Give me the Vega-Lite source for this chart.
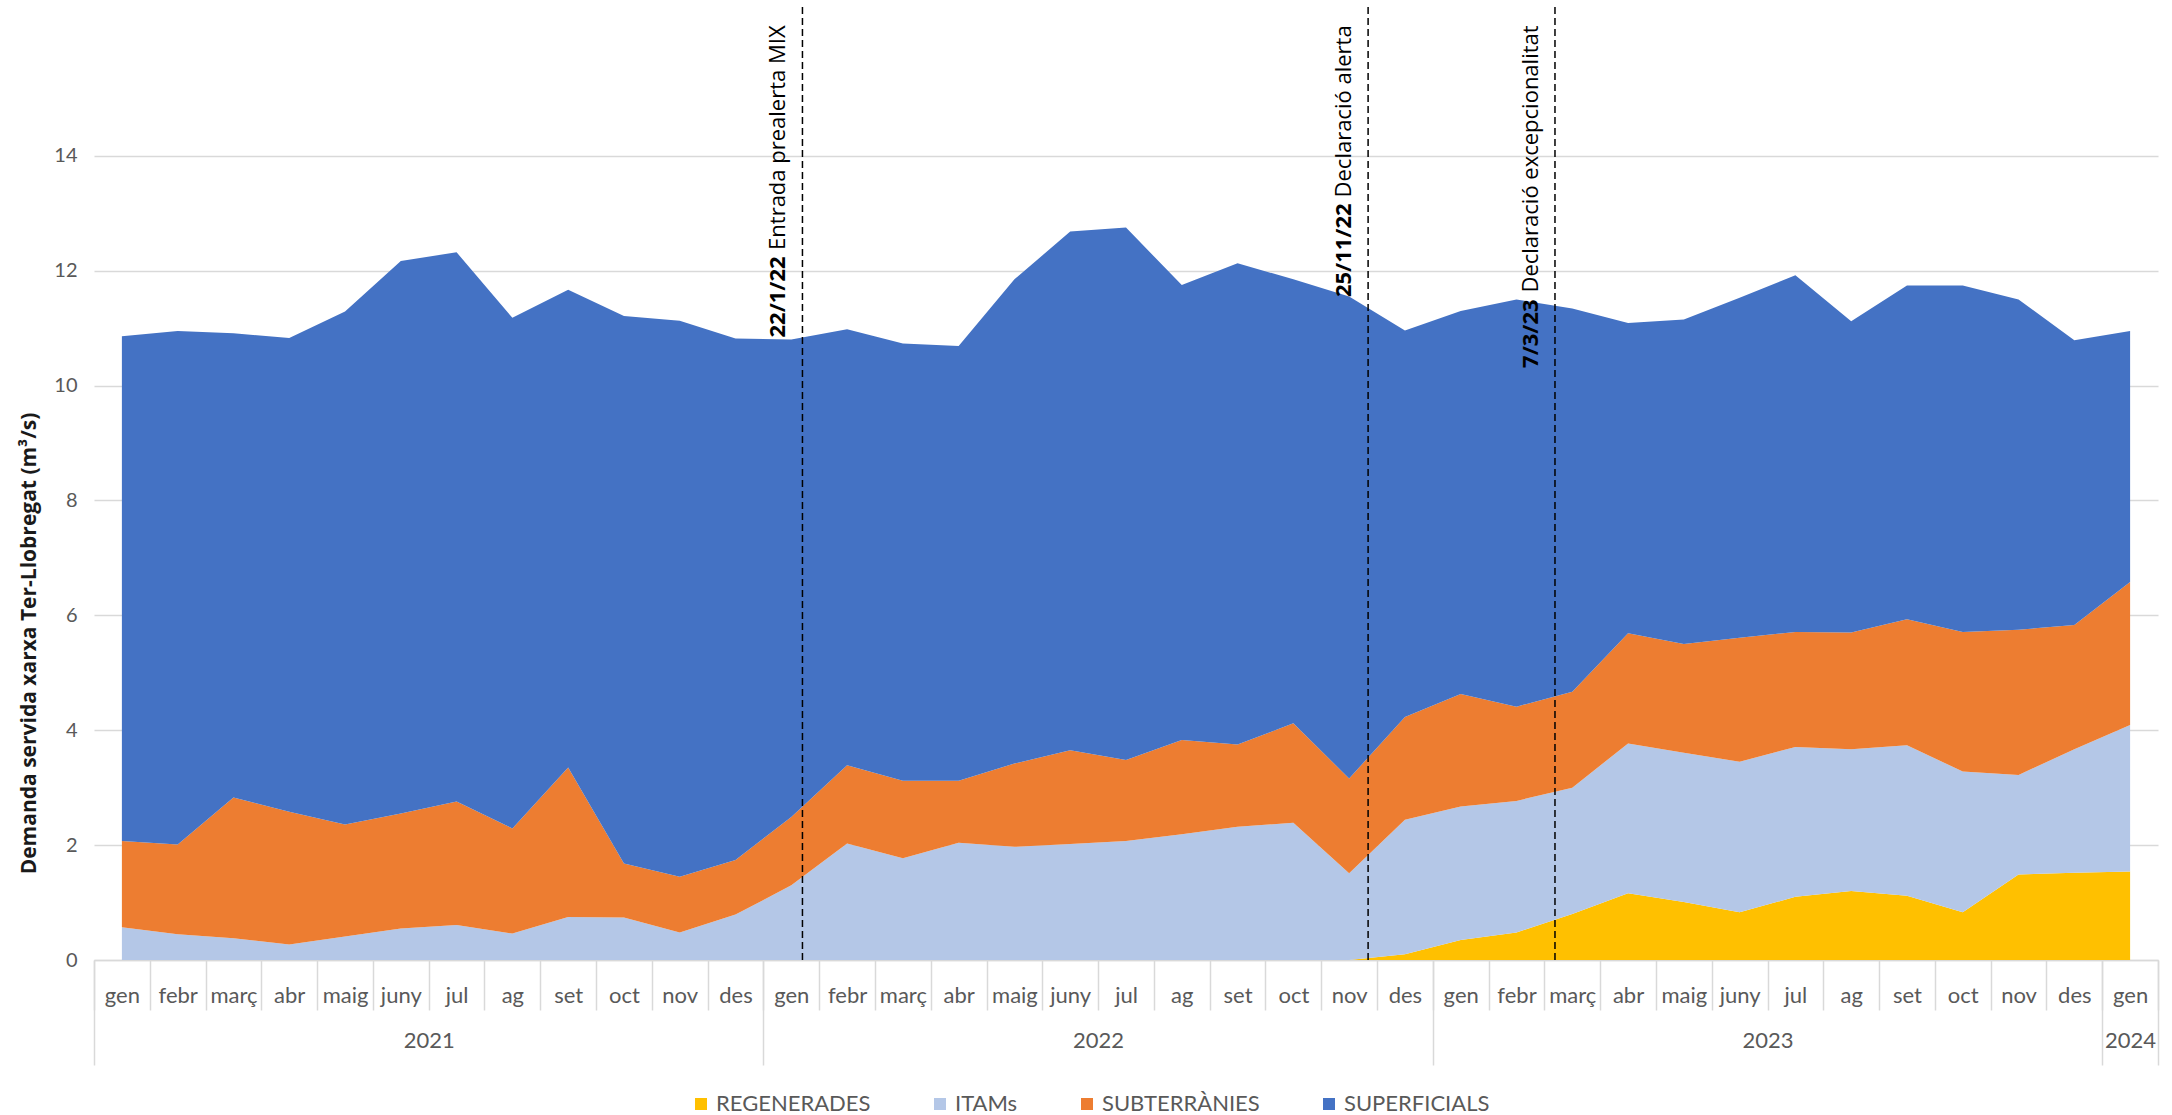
{
  "$schema": "https://vega.github.io/schema/vega-lite/v6.json",
  "width": 2064,
  "height": 953,
  "autosize": {"type": "none"},
  "padding": {"left": 94, "top": 7, "right": 14, "bottom": 155},
  "background": "white",
  "config": {"view": {"stroke": null}},
  "datasets": {
    "mesos": [
      {"i": 0, "any": 2021, "mes": "gen", "REGENERADES": 0, "ITAMs": 0.57, "SUBTERRÀNIES": 1.50, "SUPERFICIALS": 8.79},
      {"i": 1, "any": 2021, "mes": "febr", "REGENERADES": 0, "ITAMs": 0.45, "SUBTERRÀNIES": 1.56, "SUPERFICIALS": 8.94},
      {"i": 2, "any": 2021, "mes": "març", "REGENERADES": 0, "ITAMs": 0.38, "SUBTERRÀNIES": 2.45, "SUPERFICIALS": 8.08},
      {"i": 3, "any": 2021, "mes": "abr", "REGENERADES": 0, "ITAMs": 0.27, "SUBTERRÀNIES": 2.31, "SUPERFICIALS": 8.25},
      {"i": 4, "any": 2021, "mes": "maig", "REGENERADES": 0, "ITAMs": 0.41, "SUBTERRÀNIES": 1.95, "SUPERFICIALS": 8.93},
      {"i": 5, "any": 2021, "mes": "juny", "REGENERADES": 0, "ITAMs": 0.55, "SUBTERRÀNIES": 2.00, "SUPERFICIALS": 9.62},
      {"i": 6, "any": 2021, "mes": "jul", "REGENERADES": 0, "ITAMs": 0.61, "SUBTERRÀNIES": 2.15, "SUPERFICIALS": 9.56},
      {"i": 7, "any": 2021, "mes": "ag", "REGENERADES": 0, "ITAMs": 0.46, "SUBTERRÀNIES": 1.83, "SUPERFICIALS": 8.89},
      {"i": 8, "any": 2021, "mes": "set", "REGENERADES": 0, "ITAMs": 0.75, "SUBTERRÀNIES": 2.60, "SUPERFICIALS": 8.32},
      {"i": 9, "any": 2021, "mes": "oct", "REGENERADES": 0, "ITAMs": 0.74, "SUBTERRÀNIES": 0.94, "SUPERFICIALS": 9.53},
      {"i": 10, "any": 2021, "mes": "nov", "REGENERADES": 0, "ITAMs": 0.48, "SUBTERRÀNIES": 0.97, "SUPERFICIALS": 9.68},
      {"i": 11, "any": 2021, "mes": "des", "REGENERADES": 0, "ITAMs": 0.79, "SUBTERRÀNIES": 0.95, "SUPERFICIALS": 9.08},
      {"i": 12, "any": 2022, "mes": "gen", "REGENERADES": 0, "ITAMs": 1.30, "SUBTERRÀNIES": 1.19, "SUPERFICIALS": 8.31},
      {"i": 13, "any": 2022, "mes": "febr", "REGENERADES": 0, "ITAMs": 2.03, "SUBTERRÀNIES": 1.36, "SUPERFICIALS": 7.59},
      {"i": 14, "any": 2022, "mes": "març", "REGENERADES": 0, "ITAMs": 1.77, "SUBTERRÀNIES": 1.35, "SUPERFICIALS": 7.61},
      {"i": 15, "any": 2022, "mes": "abr", "REGENERADES": 0, "ITAMs": 2.04, "SUBTERRÀNIES": 1.08, "SUPERFICIALS": 7.57},
      {"i": 16, "any": 2022, "mes": "maig", "REGENERADES": 0, "ITAMs": 1.97, "SUBTERRÀNIES": 1.45, "SUPERFICIALS": 8.43},
      {"i": 17, "any": 2022, "mes": "juny", "REGENERADES": 0, "ITAMs": 2.02, "SUBTERRÀNIES": 1.63, "SUPERFICIALS": 9.03},
      {"i": 18, "any": 2022, "mes": "jul", "REGENERADES": 0, "ITAMs": 2.07, "SUBTERRÀNIES": 1.41, "SUPERFICIALS": 9.27},
      {"i": 19, "any": 2022, "mes": "ag", "REGENERADES": 0, "ITAMs": 2.19, "SUBTERRÀNIES": 1.64, "SUPERFICIALS": 7.92},
      {"i": 20, "any": 2022, "mes": "set", "REGENERADES": 0, "ITAMs": 2.32, "SUBTERRÀNIES": 1.43, "SUPERFICIALS": 8.38},
      {"i": 21, "any": 2022, "mes": "oct", "REGENERADES": 0, "ITAMs": 2.39, "SUBTERRÀNIES": 1.73, "SUPERFICIALS": 7.73},
      {"i": 22, "any": 2022, "mes": "nov", "REGENERADES": 0, "ITAMs": 1.51, "SUBTERRÀNIES": 1.65, "SUPERFICIALS": 8.39},
      {"i": 23, "any": 2022, "mes": "des", "REGENERADES": 0.10, "ITAMs": 2.34, "SUBTERRÀNIES": 1.79, "SUPERFICIALS": 6.73},
      {"i": 24, "any": 2023, "mes": "gen", "REGENERADES": 0.35, "ITAMs": 2.32, "SUBTERRÀNIES": 1.96, "SUPERFICIALS": 6.67},
      {"i": 25, "any": 2023, "mes": "febr", "REGENERADES": 0.48, "ITAMs": 2.29, "SUBTERRÀNIES": 1.64, "SUPERFICIALS": 7.09},
      {"i": 26, "any": 2023, "mes": "març", "REGENERADES": 0.80, "ITAMs": 2.20, "SUBTERRÀNIES": 1.67, "SUPERFICIALS": 6.67},
      {"i": 27, "any": 2023, "mes": "abr", "REGENERADES": 1.16, "ITAMs": 2.61, "SUBTERRÀNIES": 1.92, "SUPERFICIALS": 5.40},
      {"i": 28, "any": 2023, "mes": "maig", "REGENERADES": 1.01, "ITAMs": 2.60, "SUBTERRÀNIES": 1.89, "SUPERFICIALS": 5.65},
      {"i": 29, "any": 2023, "mes": "juny", "REGENERADES": 0.83, "ITAMs": 2.62, "SUBTERRÀNIES": 2.16, "SUPERFICIALS": 5.92},
      {"i": 30, "any": 2023, "mes": "jul", "REGENERADES": 1.10, "ITAMs": 2.61, "SUBTERRÀNIES": 2.00, "SUPERFICIALS": 6.21},
      {"i": 31, "any": 2023, "mes": "ag", "REGENERADES": 1.20, "ITAMs": 2.47, "SUBTERRÀNIES": 2.03, "SUPERFICIALS": 5.42},
      {"i": 32, "any": 2023, "mes": "set", "REGENERADES": 1.12, "ITAMs": 2.62, "SUBTERRÀNIES": 2.19, "SUPERFICIALS": 5.81},
      {"i": 33, "any": 2023, "mes": "oct", "REGENERADES": 0.83, "ITAMs": 2.45, "SUBTERRÀNIES": 2.43, "SUPERFICIALS": 6.03},
      {"i": 34, "any": 2023, "mes": "nov", "REGENERADES": 1.49, "ITAMs": 1.73, "SUBTERRÀNIES": 2.53, "SUPERFICIALS": 5.75},
      {"i": 35, "any": 2023, "mes": "des", "REGENERADES": 1.52, "ITAMs": 2.15, "SUBTERRÀNIES": 2.16, "SUPERFICIALS": 4.96},
      {"i": 36, "any": 2024, "mes": "gen", "REGENERADES": 1.54, "ITAMs": 2.55, "SUBTERRÀNIES": 2.49, "SUPERFICIALS": 4.37}
    ],
    "fites": [
      {"pos": 12.2, "data": "22/1/22", "text": "Entrada prealerta MIX"},
      {"pos": 22.34, "data": "25/11/22", "text": "Declaració alerta"},
      {"pos": 25.69, "data": "7/3/23", "text": "Declaració excepcionalitat"}
    ]
  },
  "layer": [
    {
      "data": {"name": "mesos"},
      "transform": [
        {"fold": ["REGENERADES", "ITAMs", "SUBTERRÀNIES", "SUPERFICIALS"], "as": ["serie", "v"]},
        {"calculate": "indexof(['REGENERADES','ITAMs','SUBTERRÀNIES','SUPERFICIALS'], datum.serie)", "as": "ordre"}
      ],
      "mark": {"type": "area", "interpolate": "linear"},
      "encoding": {
        "x": {
          "field": "i", "type": "quantitative",
          "scale": {"domain": [-0.5, 36.5], "nice": false, "zero": false},
          "axis": {
            "orient": "bottom", "title": null,
            "values": [0,1,2,3,4,5,6,7,8,9,10,11,12,13,14,15,16,17,18,19,20,21,22,23,24,25,26,27,28,29,30,31,32,33,34,35,36],
            "labelExpr": "['gen','febr','març','abr','maig','juny','jul','ag','set','oct','nov','des'][datum.value % 12]",
            "ticks": false, "tickSize": 0, "grid": false,
            "domain": true, "domainColor": "#d9d9d9", "domainWidth": 1.5,
            "labelPadding": 25, "labelFont": "Lato", "labelFontSize": 22, "labelColor": "#595959",
            "labelOverlap": false, "labelFlush": false
          }
        },
        "y": {
          "field": "v", "type": "quantitative", "stack": "zero",
          "scale": {"domain": [0, 16.59], "nice": false},
          "axis": {
            "values": [0, 2, 4, 6, 8, 10, 12, 14],
            "format": "d",
            "title": "Demanda servida xarxa Ter-Llobregat (m³/s)",
            "titleFont": "Open Sans", "titleFontSize": 21, "titleFontWeight": "bold", "titleColor": "#1a1a1a",
            "titleX": -65, "titleY": 636, "titleAngle": 270, "titleAlign": "center", "titleBaseline": "middle",
            "grid": true, "gridColor": "#d9d9d9", "gridWidth": 1.5,
            "domain": false, "ticks": false, "labelPadding": 17,
            "labelFont": "Lato", "labelFontSize": 20, "labelColor": "#595959"
          }
        },
        "color": {
          "field": "serie", "type": "nominal",
          "scale": {"domain": ["REGENERADES", "ITAMs", "SUBTERRÀNIES", "SUPERFICIALS"], "range": ["#FFC000", "#B4C7E7", "#ED7D31", "#4472C4"]},
          "legend": {
            "title": null, "orient": "none", "legendX": 596, "legendY": 1086, "direction": "horizontal",
            "symbolType": "square", "symbolSize": 144, "symbolStrokeWidth": 0, "symbolOpacity": 1,
            "labelFont": "Lato", "labelFontSize": 22, "labelColor": "#595959", "labelOffset": 4,
            "columnPadding": 58, "padding": 0
          }
        },
        "order": {"field": "ordre", "type": "quantitative"}
      }
    },
    {
      "data": {"name": "fites"},
      "mark": {"type": "rule", "color": "black", "strokeDash": [7, 4], "strokeWidth": 1.5},
      "encoding": {
        "x": {
          "field": "pos", "type": "quantitative",
          "scale": {"domain": [-0.5, 36.5], "nice": false, "zero": false},
          "axis": {
            "orient": "bottom", "title": null,
            "values": [-0.5,0.5,1.5,2.5,3.5,4.5,5.5,6.5,7.5,8.5,9.5,10.5,11.5,12.5,13.5,14.5,15.5,16.5,17.5,18.5,19.5,20.5,21.5,22.5,23.5,24.5,25.5,26.5,27.5,28.5,29.5,30.5,31.5,32.5,33.5,34.5,35.5,36.5],
            "labels": false, "domain": false, "grid": false,
            "ticks": true, "tickSize": 50, "tickColor": "#d9d9d9", "tickWidth": 1.5
          }
        }
      }
    },
    {
      "data": {"name": "fites"},
      "mark": {"type": "text", "angle": 270, "align": "right", "baseline": "alphabetic", "dy": -17, "font": "Open Sans", "fontSize": 22, "color": "black"},
      "encoding": {
        "x": {
          "field": "pos", "type": "quantitative",
          "scale": {"domain": [-0.5, 36.5], "nice": false, "zero": false},
          "axis": {
            "orient": "bottom", "title": null,
            "values": [-0.5, 11.5, 23.5, 35.5, 36.5],
            "labels": false, "domain": false, "grid": false,
            "ticks": true, "tickSize": 105, "tickColor": "#d9d9d9", "tickWidth": 1.5
          }
        },
        "y": {"datum": 16.27, "type": "quantitative", "scale": {"domain": [0, 16.59], "nice": false}},
        "text": {"field": "text"}
      }
    },
    {
      "data": {"name": "fites"},
      "transform": [{"filter": "datum.data == '22/1/22'"}],
      "mark": {"type": "text", "angle": 270, "align": "right", "baseline": "alphabetic", "dy": -17, "dx": -231, "font": "Open Sans", "fontSize": 22, "fontWeight": "bold", "color": "black"},
      "encoding": {
        "x": {
          "field": "pos", "type": "quantitative",
          "scale": {"domain": [-0.5, 36.5], "nice": false, "zero": false},
          "axis": {
            "orient": "bottom", "title": null,
            "values": [5.5, 17.5, 29.5, 36],
            "labelExpr": "datum.value < 12 ? '2021' : datum.value < 24 ? '2022' : datum.value < 36 ? '2023' : '2024'",
            "ticks": false, "tickSize": 0, "domain": false, "grid": false,
            "labelPadding": 70, "labelFont": "Lato", "labelFontSize": 22, "labelColor": "#595959",
            "labelOverlap": false, "labelFlush": false
          }
        },
        "y": {"datum": 16.27, "type": "quantitative", "scale": {"domain": [0, 16.59], "nice": false}},
        "text": {"field": "data"}
      }
    },
    {
      "data": {"name": "fites"},
      "transform": [{"filter": "datum.data == '25/11/22'"}],
      "mark": {"type": "text", "angle": 270, "align": "right", "baseline": "alphabetic", "dy": -17, "dx": -178, "font": "Open Sans", "fontSize": 22, "fontWeight": "bold", "color": "black"},
      "encoding": {
        "x": {"field": "pos", "type": "quantitative", "scale": {"domain": [-0.5, 36.5], "nice": false, "zero": false}, "axis": null},
        "y": {"datum": 16.27, "type": "quantitative", "scale": {"domain": [0, 16.59], "nice": false}},
        "text": {"field": "data"}
      }
    },
    {
      "data": {"name": "fites"},
      "transform": [{"filter": "datum.data == '7/3/23'"}],
      "mark": {"type": "text", "angle": 270, "align": "right", "baseline": "alphabetic", "dy": -17, "dx": -274, "font": "Open Sans", "fontSize": 22, "fontWeight": "bold", "color": "black"},
      "encoding": {
        "x": {"field": "pos", "type": "quantitative", "scale": {"domain": [-0.5, 36.5], "nice": false, "zero": false}, "axis": null},
        "y": {"datum": 16.27, "type": "quantitative", "scale": {"domain": [0, 16.59], "nice": false}},
        "text": {"field": "data"}
      }
    }
  ],
  "resolve": {"axis": {"x": "independent"}}
}
